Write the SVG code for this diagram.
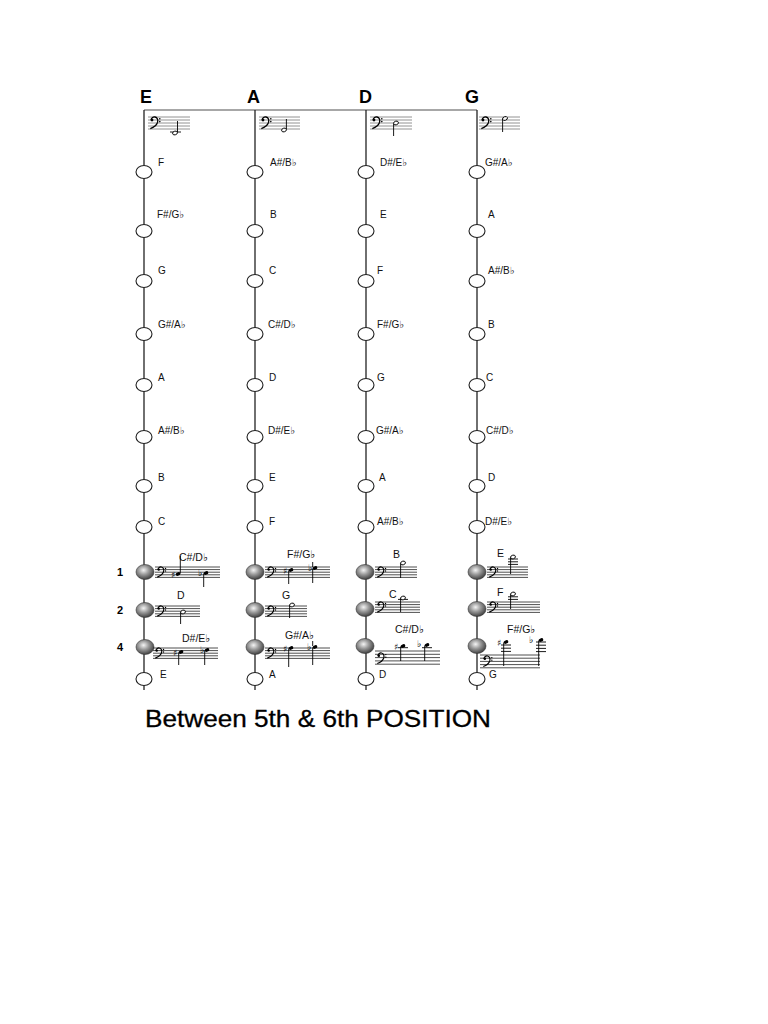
<svg xmlns="http://www.w3.org/2000/svg" xmlns:xlink="http://www.w3.org/1999/xlink" width="768" height="1024" viewBox="0 0 768 1024">
<style>
.str{stroke:#222;stroke-width:1.3;fill:none}
.top{stroke:#8a8a8a;stroke-width:1.3;fill:none}
.hd{font-family:"Liberation Sans","DejaVu Sans",sans-serif;font-weight:bold;font-size:18px;fill:#000}
.lb{font-family:"Liberation Sans","DejaVu Sans",sans-serif;font-size:10px;fill:#111}
.lb2{font-family:"Liberation Sans","DejaVu Sans",sans-serif;font-size:10.5px;fill:#111}
.fn{font-family:"Liberation Sans","DejaVu Sans",sans-serif;font-weight:bold;font-size:11px;fill:#000}
.ttl{font-family:"Liberation Sans","DejaVu Sans",sans-serif;font-size:24px;fill:#000;stroke:#000;stroke-width:0.3}
.open{fill:#fff;stroke:#222;stroke-width:1.1}
.full{fill:url(#sph);stroke:#333;stroke-width:0.6}
.stf{stroke:#222;stroke-width:0.8;fill:none}
.stfg{stroke:#777;stroke-width:0.8;fill:none}
.stem{stroke:#000;stroke-width:0.9}
.qh{fill:#000}
.hh{fill:#fff;stroke:#000;stroke-width:0.9}
.acc{font-family:"DejaVu Sans",sans-serif;font-size:9px;fill:#000}
</style>
<defs>
<radialGradient id="sph" cx="0.42" cy="0.38" r="0.65">
<stop offset="0" stop-color="#f4f4f4"/>
<stop offset="0.45" stop-color="#9a9a9a"/>
<stop offset="1" stop-color="#3a3a3a"/>
</radialGradient>
<symbol id="clef" overflow="visible">
<path d="M1.2,3.2 C1,0.6 3.5,-0.3 5,0 C7.5,0.5 8.2,3 7.5,5.5 C6.5,8.5 3.5,10.5 0.3,11.6" fill="none" stroke="#000" stroke-width="1.3"/>
<circle cx="2" cy="3" r="1.4" fill="#000"/>
<circle cx="9.8" cy="1.8" r="0.8" fill="#000"/>
<circle cx="9.8" cy="4.6" r="0.8" fill="#000"/>
</symbol>
</defs>
<rect width="768" height="1024" fill="#fff"/>

<g id="connectors">
<path class="top" d="M144,110 H477"/>
<path class="str" d="M144,110 V690"/>
<path class="str" d="M255,110 V690"/>
<path class="str" d="M366,110 V690"/>
<path class="str" d="M477,110 V690"/>
</g>

<g id="headers">
<text class="hd" x="140" y="103">E</text>
<text class="hd" x="247" y="103">A</text>
<text class="hd" x="359" y="103">D</text>
<text class="hd" x="465" y="103">G</text>
</g>

<g id="open-strings">
<g id="top-E">
<path class="stfg" d="M148,117H190M148,120H190M148,123H190M148,126H190M148,129H190"/>
<use xlink:href="#clef" x="150" y="117"/>
<path class="stem" d="M170,132H181"/>
<ellipse class="hh" cx="175" cy="133" rx="2.5" ry="1.8" transform="rotate(-20 175 133)"/>
<path class="stem" d="M177.5,132V121"/>
</g>
<g id="top-A">
<path class="stfg" d="M259,117H300M259,120H300M259,123H300M259,126H300M259,129H300"/>
<use xlink:href="#clef" x="261" y="117"/>
<ellipse class="hh" cx="284" cy="130" rx="2.5" ry="1.8" transform="rotate(-20 284 130)"/>
<path class="stem" d="M286.4,129V119"/>
</g>
<g id="top-D">
<path class="stfg" d="M370,117H412M370,120H412M370,123H412M370,126H412M370,129H412"/>
<use xlink:href="#clef" x="372" y="117"/>
<ellipse class="hh" cx="396" cy="123" rx="2.5" ry="1.8" transform="rotate(-20 396 123)"/>
<path class="stem" d="M393.6,124V136"/>
</g>
<g id="top-G">
<path class="stfg" d="M479,117H520M479,120H520M479,123H520M479,126H520M479,129H520"/>
<use xlink:href="#clef" x="481" y="117"/>
<ellipse class="hh" cx="505" cy="118.5" rx="2.5" ry="1.8" transform="rotate(-20 505 118.5)"/>
<path class="stem" d="M502.6,119V132"/>
</g>
</g>

<g id="col-E">
<g id="E1"><ellipse class="open" cx="144" cy="172" rx="8" ry="6.5"/><text class="lb" x="158" y="166">F</text></g>
<g id="E2"><ellipse class="open" cx="144" cy="231" rx="8" ry="6.5"/><text class="lb" x="157" y="218">F#/G♭</text></g>
<g id="E3"><ellipse class="open" cx="144" cy="281" rx="8" ry="6.5"/><text class="lb" x="158" y="274">G</text></g>
<g id="E4"><ellipse class="open" cx="144" cy="334" rx="8" ry="6.5"/><text class="lb" x="158" y="328">G#/A♭</text></g>
<g id="E5"><ellipse class="open" cx="144" cy="385" rx="8" ry="6.5"/><text class="lb" x="158" y="381">A</text></g>
<g id="E6"><ellipse class="open" cx="144" cy="437" rx="8" ry="6.5"/><text class="lb" x="158" y="434">A#/B♭</text></g>
<g id="E7"><ellipse class="open" cx="144" cy="486" rx="8" ry="6.5"/><text class="lb" x="158" y="481">B</text></g>
<g id="E8"><ellipse class="open" cx="144" cy="527" rx="8" ry="6.5"/><text class="lb" x="158" y="525">C</text></g>
<g id="E9">
<ellipse class="full" cx="145" cy="572" rx="9" ry="7.5"/>
<text class="lb2" x="179" y="561">C#/D♭</text>
<path class="stf" d="M155,567H220M155,569.6H220M155,572.2H220M155,574.8H220M155,577.4H220"/>
<use xlink:href="#clef" x="157" y="567" transform="translate(157 567) scale(0.87) translate(-157 -567)"/>
<text class="acc" x="171" y="578">♯</text>
<ellipse class="qh" cx="178" cy="574" rx="2.4" ry="1.7" transform="rotate(-20 178 574)"/>
<path class="stem" d="M180.3,573.5V556"/>
<text class="acc" x="198" y="576">♭</text>
<ellipse class="qh" cx="206" cy="573" rx="2.4" ry="1.7" transform="rotate(-20 206 573)"/>
<path class="stem" d="M203.7,573.5V587"/>
</g>
<g id="E10">
<ellipse class="full" cx="145" cy="610" rx="9" ry="7.5"/>
<text class="lb2" x="177" y="599">D</text>
<path class="stf" d="M155,606H200M155,608.6H200M155,611.2H200M155,613.8H200M155,616.4H200"/>
<use xlink:href="#clef" x="157" y="606" transform="translate(157 606) scale(0.87) translate(-157 -606)"/>
<ellipse class="hh" cx="183" cy="612" rx="2.5" ry="1.8" transform="rotate(-20 183 612)"/>
<path class="stem" d="M180.6,612.5V624"/>
</g>
<g id="E11">
<ellipse class="full" cx="145" cy="647" rx="9" ry="7.5"/>
<text class="lb2" x="182" y="642">D#/E♭</text>
<path class="stf" d="M153,648H218M153,650.6H218M153,653.2H218M153,655.8H218M153,658.4H218"/>
<use xlink:href="#clef" x="155" y="648" transform="translate(155 648) scale(0.87) translate(-155 -648)"/>
<text class="acc" x="173" y="656">♯</text>
<ellipse class="qh" cx="181" cy="652" rx="2.4" ry="1.7" transform="rotate(-20 181 652)"/>
<path class="stem" d="M178.7,652.5V665"/>
<text class="acc" x="200" y="653">♭</text>
<ellipse class="qh" cx="207" cy="650" rx="2.4" ry="1.7" transform="rotate(-20 207 650)"/>
<path class="stem" d="M204.7,650.5V665"/>
</g>
<g id="E12"><ellipse class="open" cx="144" cy="679" rx="8" ry="6.5"/><text class="lb" x="160" y="678">E</text></g>
</g>

<g id="col-A">
<g id="A1"><ellipse class="open" cx="255" cy="172" rx="8" ry="6.5"/><text class="lb" x="270" y="166">A#/B♭</text></g>
<g id="A2"><ellipse class="open" cx="255" cy="231" rx="8" ry="6.5"/><text class="lb" x="270" y="218">B</text></g>
<g id="A3"><ellipse class="open" cx="255" cy="281" rx="8" ry="6.5"/><text class="lb" x="269" y="274">C</text></g>
<g id="A4"><ellipse class="open" cx="255" cy="334" rx="8" ry="6.5"/><text class="lb" x="268" y="328">C#/D♭</text></g>
<g id="A5"><ellipse class="open" cx="255" cy="385" rx="8" ry="6.5"/><text class="lb" x="269" y="381">D</text></g>
<g id="A6"><ellipse class="open" cx="255" cy="437" rx="8" ry="6.5"/><text class="lb" x="268" y="434">D#/E♭</text></g>
<g id="A7"><ellipse class="open" cx="255" cy="486" rx="8" ry="6.5"/><text class="lb" x="269" y="481">E</text></g>
<g id="A8"><ellipse class="open" cx="255" cy="527" rx="8" ry="6.5"/><text class="lb" x="269" y="525">F</text></g>
<g id="A9">
<ellipse class="full" cx="255" cy="572" rx="9" ry="7.5"/>
<text class="lb2" x="287" y="558">F#/G♭</text>
<path class="stf" d="M265,567H330M265,569.6H330M265,572.2H330M265,574.8H330M265,577.4H330"/>
<use xlink:href="#clef" x="267" y="567" transform="translate(267 567) scale(0.87) translate(-267 -567)"/>
<text class="acc" x="283" y="574">♯</text>
<ellipse class="qh" cx="291" cy="570" rx="2.4" ry="1.7" transform="rotate(-20 291 570)"/>
<path class="stem" d="M288.7,570.5V584"/>
<text class="acc" x="308" y="571">♭</text>
<ellipse class="qh" cx="315" cy="568" rx="2.4" ry="1.7" transform="rotate(-20 315 568)"/>
<path class="stem" d="M312.7,568.5V583"/>
<path class="stem" d="M312.7,567V562" stroke-width="0.6"/>
</g>
<g id="A10">
<ellipse class="full" cx="255" cy="610" rx="9" ry="7.5"/>
<text class="lb2" x="282" y="599">G</text>
<path class="stf" d="M265,606H307M265,608.6H307M265,611.2H307M265,613.8H307M265,616.4H307"/>
<use xlink:href="#clef" x="267" y="606" transform="translate(267 606) scale(0.87) translate(-267 -606)"/>
<ellipse class="hh" cx="292" cy="605" rx="2.5" ry="1.8" transform="rotate(-20 292 605)"/>
<path class="stem" d="M289.6,605.5V618"/>
</g>
<g id="A11">
<ellipse class="full" cx="255" cy="647" rx="9" ry="7.5"/>
<text class="lb2" x="285" y="639">G#/A♭</text>
<path class="stf" d="M265,648H330M265,650.6H330M265,653.2H330M265,655.8H330M265,658.4H330"/>
<use xlink:href="#clef" x="267" y="648" transform="translate(267 648) scale(0.87) translate(-267 -648)"/>
<text class="acc" x="283" y="652">♯</text>
<ellipse class="qh" cx="291" cy="648" rx="2.4" ry="1.7" transform="rotate(-20 291 648)"/>
<path class="stem" d="M288.7,648.5V667"/>
<text class="acc" x="307" y="650">♭</text>
<ellipse class="qh" cx="315" cy="647" rx="2.4" ry="1.7" transform="rotate(-20 315 647)"/>
<path class="stem" d="M312.7,647.5V665"/>
<path class="stem" d="M312.7,646V641" stroke-width="0.6"/>
</g>
<g id="A12"><ellipse class="open" cx="255" cy="679" rx="8" ry="6.5"/><text class="lb" x="269" y="678">A</text></g>
</g>

<g id="col-D">
<g id="D1"><ellipse class="open" cx="366" cy="172" rx="8" ry="6.5"/><text class="lb" x="380" y="166">D#/E♭</text></g>
<g id="D2"><ellipse class="open" cx="366" cy="231" rx="8" ry="6.5"/><text class="lb" x="380" y="218">E</text></g>
<g id="D3"><ellipse class="open" cx="366" cy="281" rx="8" ry="6.5"/><text class="lb" x="377" y="274">F</text></g>
<g id="D4"><ellipse class="open" cx="366" cy="334" rx="8" ry="6.5"/><text class="lb" x="377" y="328">F#/G♭</text></g>
<g id="D5"><ellipse class="open" cx="366" cy="385" rx="8" ry="6.5"/><text class="lb" x="377" y="381">G</text></g>
<g id="D6"><ellipse class="open" cx="366" cy="437" rx="8" ry="6.5"/><text class="lb" x="376" y="434">G#/A♭</text></g>
<g id="D7"><ellipse class="open" cx="366" cy="486" rx="8" ry="6.5"/><text class="lb" x="379" y="481">A</text></g>
<g id="D8"><ellipse class="open" cx="366" cy="527" rx="8" ry="6.5"/><text class="lb" x="377" y="525">A#/B♭</text></g>
<g id="D9">
<ellipse class="full" cx="365" cy="572" rx="9" ry="7.5"/>
<text class="lb2" x="393" y="558">B</text>
<path class="stf" d="M375,567H417M375,569.6H417M375,572.2H417M375,574.8H417M375,577.4H417"/>
<use xlink:href="#clef" x="377" y="567" transform="translate(377 567) scale(0.87) translate(-377 -567)"/>
<ellipse class="hh" cx="403" cy="563" rx="2.5" ry="1.8" transform="rotate(-20 403 563)"/>
<path class="stem" d="M400.6,563.5V578"/>
</g>
<g id="D10">
<ellipse class="full" cx="365" cy="609" rx="9" ry="7.5"/>
<text class="lb2" x="389" y="598">C</text>
<path class="stf" d="M375,602H420M375,604.6H420M375,607.2H420M375,609.8H420M375,612.4H420"/>
<use xlink:href="#clef" x="377" y="602" transform="translate(377 602) scale(0.87) translate(-377 -602)"/>
<path class="stem" d="M398,599.4H408"/>
<ellipse class="hh" cx="403" cy="598" rx="2.5" ry="1.8" transform="rotate(-20 403 598)"/>
<path class="stem" d="M400.6,598.5V612"/>
</g>
<g id="D11">
<ellipse class="full" cx="365" cy="646" rx="9" ry="7.5"/>
<text class="lb2" x="395" y="633">C#/D♭</text>
<path class="stf" d="M375,651H440M375,654.3H440M375,657.6H440M375,660.9H440M375,664.2H440"/>
<use xlink:href="#clef" x="377" y="653" transform="translate(377 653) scale(0.9) translate(-377 -653)"/>
<text class="acc" x="394" y="650">♯</text>
<path class="stem" d="M398,647.7H408"/>
<ellipse class="qh" cx="403" cy="646" rx="2.4" ry="1.7" transform="rotate(-20 403 646)"/>
<path class="stem" d="M400.7,646.5V661"/>
<text class="acc" x="417" y="647">♭</text>
<path class="stem" d="M422,647.7H432"/>
<ellipse class="qh" cx="427" cy="645" rx="2.4" ry="1.7" transform="rotate(-20 427 645)"/>
<path class="stem" d="M424.7,645.5V661"/>
</g>
<g id="D12"><ellipse class="open" cx="366" cy="679" rx="8" ry="6.5"/><text class="lb" x="379" y="678">D</text></g>
</g>

<g id="col-G">
<g id="G1"><ellipse class="open" cx="477" cy="172" rx="8" ry="6.5"/><text class="lb" x="485" y="166">G#/A♭</text></g>
<g id="G2"><ellipse class="open" cx="477" cy="231" rx="8" ry="6.5"/><text class="lb" x="488" y="218">A</text></g>
<g id="G3"><ellipse class="open" cx="477" cy="281" rx="8" ry="6.5"/><text class="lb" x="488" y="274">A#/B♭</text></g>
<g id="G4"><ellipse class="open" cx="477" cy="334" rx="8" ry="6.5"/><text class="lb" x="488" y="328">B</text></g>
<g id="G5"><ellipse class="open" cx="477" cy="385" rx="8" ry="6.5"/><text class="lb" x="486" y="381">C</text></g>
<g id="G6"><ellipse class="open" cx="477" cy="437" rx="8" ry="6.5"/><text class="lb" x="486" y="434">C#/D♭</text></g>
<g id="G7"><ellipse class="open" cx="477" cy="486" rx="8" ry="6.5"/><text class="lb" x="488" y="481">D</text></g>
<g id="G8"><ellipse class="open" cx="477" cy="527" rx="8" ry="6.5"/><text class="lb" x="485" y="525">D#/E♭</text></g>
<g id="G9">
<ellipse class="full" cx="477" cy="572" rx="9" ry="7.5"/>
<text class="lb2" x="497" y="557">E</text>
<path class="stf" d="M487,567H528M487,569.6H528M487,572.2H528M487,574.8H528M487,577.4H528"/>
<use xlink:href="#clef" x="489" y="567" transform="translate(489 567) scale(0.87) translate(-489 -567)"/>
<path class="stem" d="M508,559H518M508,561.8H518M508,564.4H518"/>
<ellipse class="hh" cx="513" cy="557" rx="2.5" ry="1.8" transform="rotate(-20 513 557)"/>
<path class="stem" d="M510.6,557.5V574"/>
</g>
<g id="G10">
<ellipse class="full" cx="477" cy="609" rx="9" ry="7.5"/>
<text class="lb2" x="497" y="596">F</text>
<path class="stf" d="M487,602H540M487,604.6H540M487,607.2H540M487,609.8H540M487,612.4H540"/>
<use xlink:href="#clef" x="489" y="602" transform="translate(489 602) scale(0.87) translate(-489 -602)"/>
<path class="stem" d="M508,596.8H518M508,599.4H518"/>
<ellipse class="hh" cx="513" cy="594" rx="2.5" ry="1.8" transform="rotate(-20 513 594)"/>
<path class="stem" d="M510.6,594.5V609"/>
</g>
<g id="G11">
<ellipse class="full" cx="477" cy="646" rx="9" ry="7.5"/>
<text class="lb2" x="507" y="633">F#/G♭</text>
<path class="stf" d="M480,655H540M480,658.2H540M480,661.4H540M480,664.6H540M480,667.8H540"/>
<use xlink:href="#clef" x="483" y="656" transform="translate(483 656) scale(0.9) translate(-483 -656)"/>
<text class="acc" x="497" y="646">♯</text>
<path class="stem" d="M501,645H511M501,648.2H511M501,651.4H511"/>
<ellipse class="qh" cx="506" cy="642" rx="2.4" ry="1.7" transform="rotate(-20 506 642)"/>
<path class="stem" d="M503.7,642.5V666"/>
<text class="acc" x="529" y="643">♭</text>
<path class="stem" d="M536,642H546M536,645.2H546M536,648.4H546M536,651.6H546"/>
<ellipse class="qh" cx="541" cy="640" rx="2.4" ry="1.7" transform="rotate(-20 541 640)"/>
<path class="stem" d="M538.7,640.5V666"/>
</g>
<g id="G12"><ellipse class="open" cx="477" cy="679" rx="8" ry="6.5"/><text class="lb" x="489" y="678">G</text></g>
</g>

<g id="fingers">
<text class="fn" x="117" y="576">1</text>
<text class="fn" x="117" y="614">2</text>
<text class="fn" x="117" y="651">4</text>
</g>

<text class="ttl" x="145" y="727" textLength="346" lengthAdjust="spacingAndGlyphs">Between 5th &amp; 6th POSITION</text>
</svg>
